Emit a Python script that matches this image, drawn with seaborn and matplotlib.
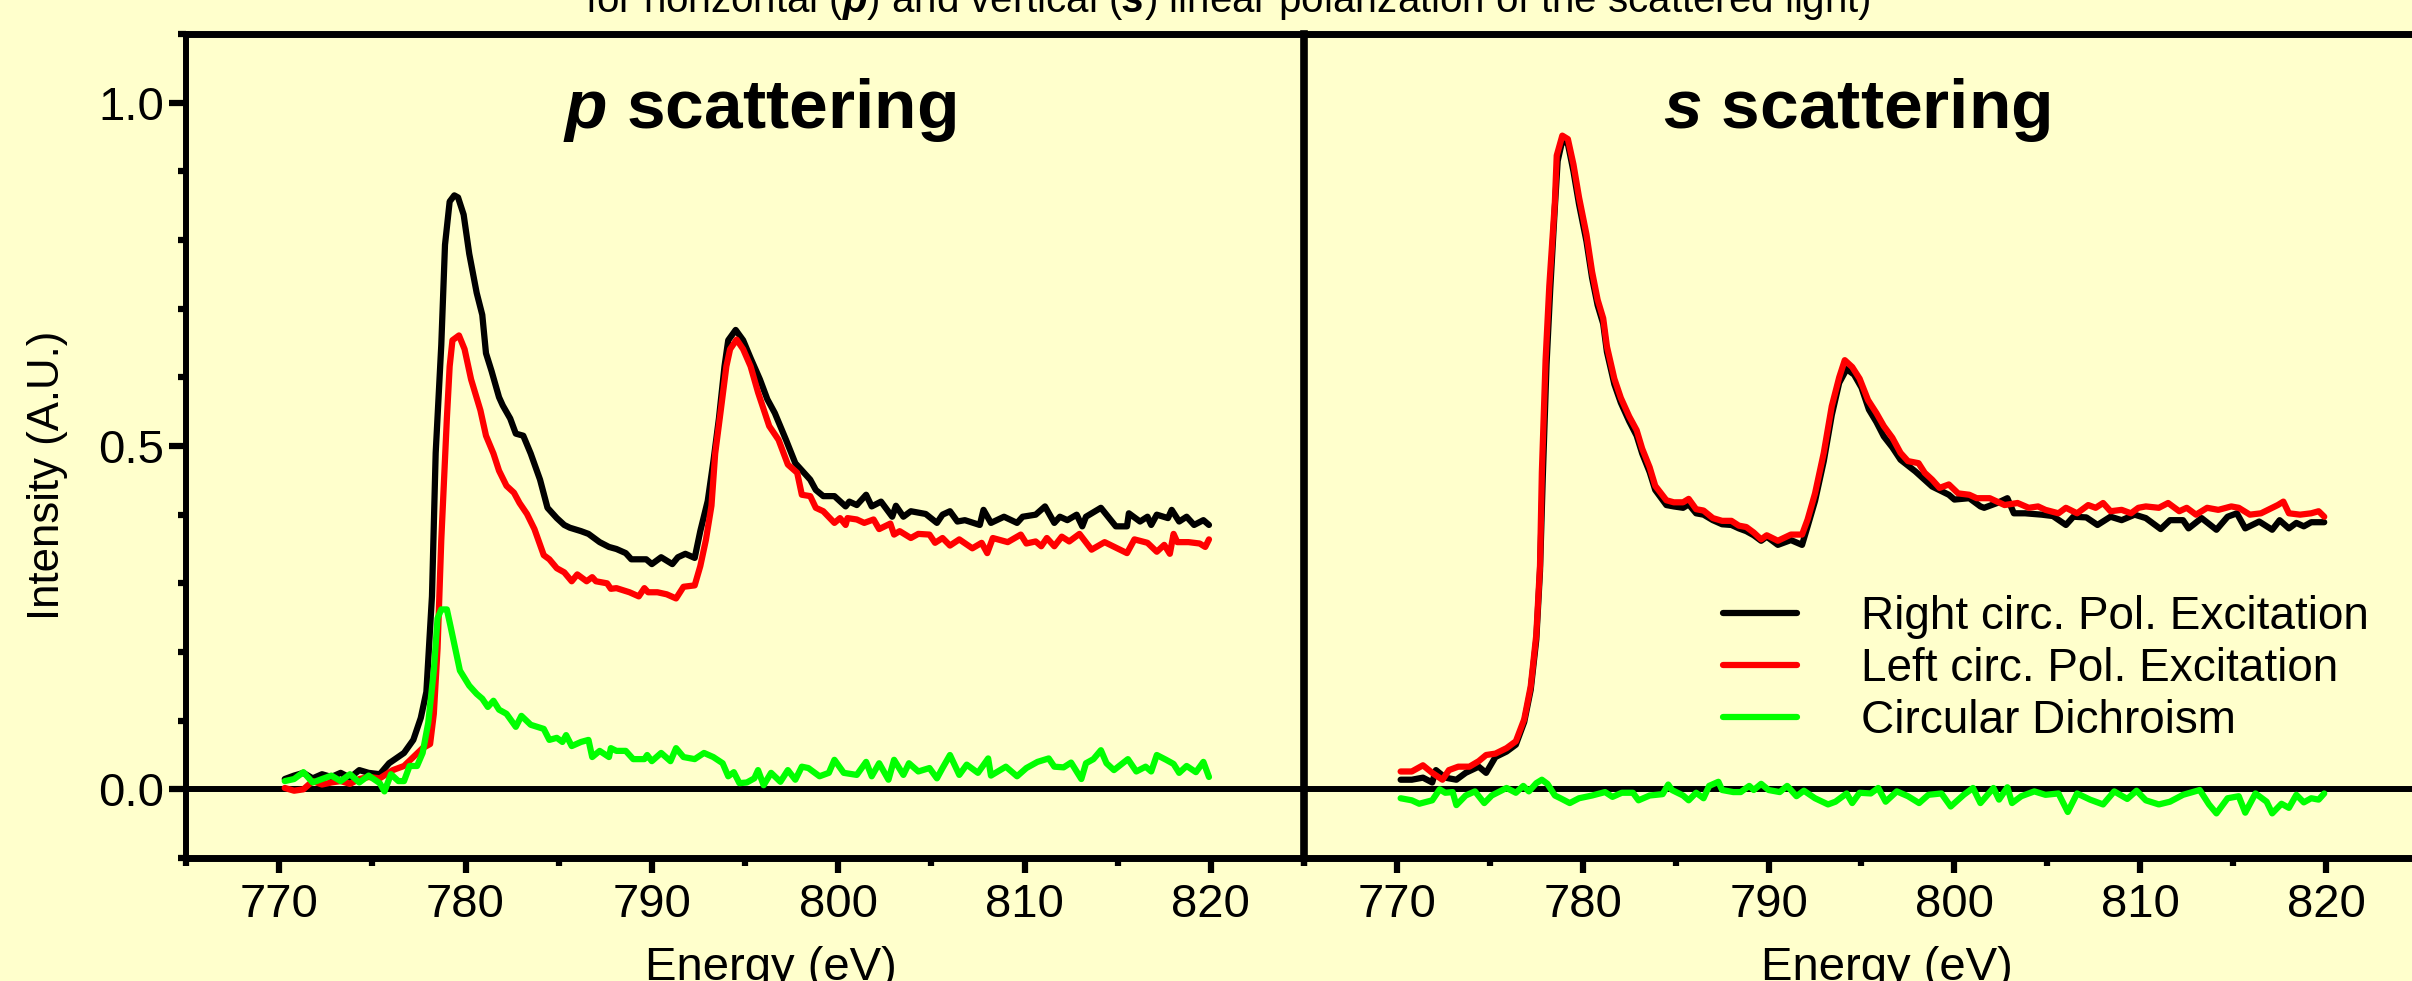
import numpy as np
import matplotlib
matplotlib.use("Agg")
import matplotlib.pyplot as plt
import seaborn as sns
from matplotlib.ticker import FixedLocator, FixedFormatter

# ---------------- data ----------------
# p scattering: right circular excitation (black)
p_right_E = [770.3, 770.8, 771.3, 771.8, 772.3, 772.8, 773.3, 773.8, 774.3, 774.8, 775.4, 775.9, 776.7, 777.2,
             777.6, 777.9, 778.2, 778.4, 778.7, 778.9, 779.15, 779.4, 779.6, 779.9, 780.2, 780.6, 780.9, 781.1,
             781.4, 781.8, 782.0, 782.4, 782.7, 783.1, 783.5, 784.0, 784.4, 784.9, 785.3, 785.6, 786.2, 786.6,
             786.9, 787.2, 787.7, 788.1, 788.6, 788.9, 789.4, 789.7, 790.0, 790.5, 791.1, 791.4, 791.8, 792.3,
             792.6, 793.0, 793.3, 793.6, 793.9, 794.1, 794.5, 794.9, 795.3, 795.8, 796.2, 796.6, 797.2, 797.7,
             798.1, 798.5, 798.8, 799.2, 799.8, 800.4, 800.6, 801.0, 801.5, 801.8, 802.3, 802.9, 803.1, 803.5,
             803.9, 804.7, 805.3, 805.6, 806.0, 806.4, 806.8, 807.6, 807.8, 808.2, 808.9, 809.6, 809.9, 810.6,
             811.1, 811.6, 811.9, 812.3, 812.8, 813.1, 813.3, 814.1, 814.9, 815.5, 815.6, 816.2, 816.6, 816.8,
             817.1, 817.7, 817.9, 818.3, 818.7, 819.1, 819.6, 819.9]
p_right_I = [0.015, 0.020, 0.024, 0.016, 0.022, 0.018, 0.024, 0.017, 0.028, 0.024, 0.022, 0.038, 0.053, 0.072,
             0.104, 0.142, 0.281, 0.490, 0.647, 0.793, 0.856, 0.865, 0.862, 0.837, 0.780, 0.723, 0.691, 0.635,
             0.609, 0.571, 0.559, 0.540, 0.518, 0.515, 0.489, 0.451, 0.410, 0.395, 0.385, 0.381, 0.376, 0.372,
             0.366, 0.360, 0.353, 0.350, 0.344, 0.335, 0.335, 0.335, 0.328, 0.338, 0.328, 0.338, 0.343, 0.337,
             0.376, 0.420, 0.477, 0.540, 0.616, 0.654, 0.669, 0.654, 0.628, 0.597, 0.568, 0.548, 0.509, 0.475,
             0.463, 0.451, 0.436, 0.427, 0.427, 0.412, 0.419, 0.414, 0.429, 0.412, 0.419, 0.397, 0.413, 0.397,
             0.405, 0.401, 0.388, 0.400, 0.405, 0.390, 0.392, 0.385, 0.407, 0.388, 0.397, 0.388, 0.397, 0.400,
             0.412, 0.388, 0.397, 0.392, 0.400, 0.383, 0.397, 0.410, 0.383, 0.383, 0.402, 0.390, 0.397, 0.385,
             0.400, 0.395, 0.407, 0.390, 0.397, 0.385, 0.392, 0.385]

# p scattering: left circular excitation (red)
p_left_E = [770.3, 770.8, 771.3, 771.8, 772.3, 772.8, 773.3, 773.8, 774.3, 774.8, 775.4, 776.1, 776.7, 777.2,
            777.7, 778.1, 778.3, 778.5, 778.7, 779.0, 779.15, 779.3, 779.65, 779.95, 780.3, 780.8, 781.1, 781.5,
            781.8, 782.2, 782.6, 782.9, 783.3, 783.7, 784.2, 784.5, 784.9, 785.3, 785.7, 786.0, 786.5, 786.8,
            787.0, 787.6, 787.8, 788.1, 788.8, 789.3, 789.6, 789.8, 790.3, 790.8, 791.3, 791.7, 792.3, 792.6,
            792.9, 793.2, 793.4, 793.7, 794.0, 794.2, 794.55, 794.9, 795.3, 795.7, 796.3, 796.8, 797.3, 797.8,
            798.05, 798.5, 798.8, 799.2, 799.8, 800.1, 800.4, 800.5, 801.0, 801.4, 801.9, 802.2, 802.8, 803.0,
            803.3, 803.9, 804.3, 804.9, 805.2, 805.6, 806.0, 806.5, 807.2, 807.7, 808.0, 808.3, 809.1, 809.8,
            810.1, 810.6, 810.9, 811.2, 811.6, 812.0, 812.4, 812.95, 813.6, 814.3, 815.5, 815.9, 816.6, 817.1,
            817.5, 817.8, 818.0, 818.2, 818.8, 819.4, 819.7, 819.9]
p_left_I = [0.002, -0.002, 0.000, 0.012, 0.007, 0.010, 0.012, 0.008, 0.015, 0.018, 0.016, 0.028, 0.034, 0.047,
            0.060, 0.066, 0.110, 0.205, 0.363, 0.540, 0.616, 0.654, 0.661, 0.641, 0.597, 0.552, 0.515, 0.489,
            0.464, 0.442, 0.432, 0.417, 0.401, 0.379, 0.341, 0.335, 0.322, 0.316, 0.303, 0.313, 0.303, 0.309,
            0.303, 0.300, 0.292, 0.293, 0.287, 0.281, 0.293, 0.287, 0.287, 0.284, 0.278, 0.295, 0.297, 0.325,
            0.363, 0.413, 0.489, 0.552, 0.616, 0.641, 0.655, 0.641, 0.616, 0.578, 0.529, 0.509, 0.473, 0.461,
            0.429, 0.427, 0.410, 0.405, 0.388, 0.395, 0.385, 0.395, 0.393, 0.388, 0.393, 0.379, 0.387, 0.371,
            0.376, 0.366, 0.372, 0.371, 0.359, 0.366, 0.355, 0.364, 0.351, 0.359, 0.344, 0.366, 0.360, 0.371,
            0.358, 0.361, 0.354, 0.366, 0.354, 0.368, 0.361, 0.372, 0.349, 0.360, 0.344, 0.364, 0.359, 0.346,
            0.356, 0.343, 0.372, 0.360, 0.360, 0.358, 0.353, 0.364]

# p scattering: circular dichroism (green)
p_cd_E = [770.3, 770.8, 771.3, 771.8, 772.3, 772.8, 773.3, 773.8, 774.3, 774.8, 775.4, 775.65, 776.0, 776.4,
          776.7, 777.0, 777.4, 777.7, 778.0, 778.3, 778.5, 778.7, 779.0, 779.2, 779.7, 780.2, 780.6, 780.9,
          781.2, 781.5, 781.8, 782.2, 782.7, 783.0, 783.5, 784.2, 784.5, 784.9, 785.2, 785.4, 785.7, 786.2,
          786.6, 786.8, 787.2, 787.7, 787.8, 788.1, 788.6, 789.0, 789.6, 789.75, 790.0, 790.5, 791.0, 791.3,
          791.7, 792.3, 792.8, 793.3, 793.8, 794.1, 794.4, 794.7, 795.1, 795.5, 795.7, 796.0, 796.4, 796.9,
          797.3, 797.7, 798.05, 798.4, 799.0, 799.5, 799.8, 800.3, 801.0, 801.5, 801.8, 802.2, 802.7, 803.0,
          803.5, 803.8, 804.3, 804.9, 805.3, 805.6, 806.0, 806.5, 806.9, 807.5, 808.05, 808.2, 809.0, 809.6,
          810.1, 810.7, 811.3, 811.6, 812.1, 812.5, 813.05, 813.3, 813.7, 814.1, 814.4, 814.8, 815.55, 816.0,
          816.5, 816.8, 817.1, 817.6, 818.0, 818.3, 818.7, 819.2, 819.6, 819.9]
p_cd_I = [0.012, 0.015, 0.025, 0.010, 0.015, 0.020, 0.012, 0.022, 0.010, 0.020, 0.009, -0.003, 0.022, 0.012,
          0.012, 0.034, 0.034, 0.053, 0.097, 0.173, 0.249, 0.262, 0.262, 0.237, 0.173, 0.151, 0.139, 0.132,
          0.120, 0.129, 0.116, 0.110, 0.091, 0.107, 0.094, 0.088, 0.072, 0.075, 0.069, 0.079, 0.063, 0.069,
          0.072, 0.047, 0.056, 0.047, 0.060, 0.056, 0.056, 0.044, 0.044, 0.050, 0.041, 0.053, 0.041, 0.060,
          0.047, 0.044, 0.053, 0.047, 0.038, 0.019, 0.025, 0.009, 0.010, 0.016, 0.028, 0.006, 0.024, 0.011,
          0.028, 0.014, 0.033, 0.031, 0.019, 0.024, 0.043, 0.024, 0.021, 0.040, 0.019, 0.038, 0.014, 0.043,
          0.021, 0.038, 0.026, 0.031, 0.016, 0.031, 0.050, 0.021, 0.036, 0.024, 0.045, 0.020, 0.033, 0.019,
          0.031, 0.040, 0.045, 0.033, 0.032, 0.039, 0.015, 0.038, 0.044, 0.057, 0.038, 0.028, 0.044, 0.026,
          0.033, 0.026, 0.050, 0.043, 0.037, 0.024, 0.034, 0.025, 0.040, 0.018]

# s scattering: right circular excitation (black)
s_right_E = [770.2, 770.8, 771.4, 771.9, 772.1, 772.6, 773.2, 773.7, 774.4, 774.8, 775.3, 775.9, 776.4, 776.85,
             777.2, 777.5, 777.7, 777.85, 778.05, 778.25, 778.5, 778.65, 778.9, 779.2, 779.5, 779.8, 780.2, 780.5,
             780.8, 781.1, 781.3, 781.7, 782.05, 782.5, 782.9, 783.2, 783.6, 783.9, 784.5, 784.9, 785.4, 785.7,
             786.1, 786.5, 787.0, 787.5, 788.0, 788.4, 788.8, 789.2, 789.6, 789.9, 790.5, 791.2, 791.8, 792.1,
             792.5, 792.97, 793.4, 793.8, 794.2, 794.6, 795.0, 795.4, 795.8, 796.2, 796.66, 797.1, 797.9, 798.8,
             799.7, 800.0, 800.8, 801.4, 801.6, 802.3, 802.85, 803.2, 803.8, 804.7, 805.3, 806.0, 806.4, 807.1,
             807.7, 808.4, 809.0, 809.7, 810.3, 811.1, 811.6, 812.3, 812.6, 813.3, 814.1, 814.7, 815.2, 815.65,
             816.4, 817.1, 817.5, 818.0, 818.4, 818.8, 819.2, 819.9]
s_right_I = [0.014, 0.014, 0.017, 0.010, 0.028, 0.017, 0.014, 0.024, 0.033, 0.024, 0.047, 0.055, 0.065, 0.098,
             0.145, 0.218, 0.318, 0.455, 0.618, 0.728, 0.848, 0.915, 0.945, 0.940, 0.900, 0.852, 0.798, 0.745,
             0.705, 0.678, 0.637, 0.590, 0.563, 0.536, 0.515, 0.489, 0.462, 0.436, 0.414, 0.412, 0.410, 0.415,
             0.402, 0.400, 0.392, 0.386, 0.385, 0.380, 0.376, 0.370, 0.362, 0.368, 0.356, 0.363, 0.356, 0.383,
             0.420, 0.478, 0.545, 0.592, 0.612, 0.604, 0.585, 0.553, 0.535, 0.514, 0.498, 0.480, 0.463, 0.441,
             0.429, 0.422, 0.424, 0.412, 0.410, 0.417, 0.424, 0.402, 0.402, 0.400, 0.398, 0.385, 0.397, 0.396,
             0.385, 0.397, 0.392, 0.400, 0.395, 0.379, 0.392, 0.392, 0.380, 0.395, 0.378, 0.397, 0.402, 0.380,
             0.390, 0.378, 0.392, 0.380, 0.388, 0.383, 0.389, 0.389]

# s scattering: left circular excitation (red)
s_left_E = [770.2, 770.8, 771.4, 771.9, 772.45, 772.8, 773.3, 773.9, 774.4, 774.8, 775.3, 775.9, 776.4, 776.85,
            777.2, 777.5, 777.7, 777.8, 778.0, 778.2, 778.5, 778.6, 778.9, 779.2, 779.5, 779.8, 780.2, 780.5,
            780.8, 781.1, 781.3, 781.7, 782.05, 782.5, 782.9, 783.2, 783.6, 783.9, 784.5, 784.9, 785.4, 785.7,
            786.1, 786.5, 787.0, 787.5, 788.0, 788.4, 788.8, 789.2, 789.6, 789.9, 790.5, 791.2, 791.8, 792.1,
            792.5, 792.97, 793.4, 793.8, 794.1, 794.5, 794.9, 795.35, 795.8, 796.2, 796.66, 797.1, 797.5, 798.07,
            798.4, 798.8, 799.2, 799.7, 800.2, 800.8, 801.2, 801.9, 802.3, 802.7, 803.4, 804.0, 804.5, 804.9,
            805.6, 806.0, 806.6, 807.2, 807.6, 808.0, 808.4, 809.0, 809.5, 809.9, 810.3, 811.0, 811.5, 812.1,
            812.5, 813.0, 813.6, 814.2, 814.9, 815.3, 815.9, 816.5, 817.1, 817.4, 817.7, 818.0, 818.6, 819.2,
            819.6, 819.9]
s_left_I = [0.026, 0.026, 0.035, 0.024, 0.014, 0.028, 0.033, 0.033, 0.041, 0.050, 0.052, 0.060, 0.070, 0.102,
            0.150, 0.225, 0.326, 0.462, 0.625, 0.733, 0.855, 0.923, 0.952, 0.947, 0.910, 0.862, 0.808, 0.754,
            0.713, 0.686, 0.645, 0.598, 0.570, 0.543, 0.523, 0.496, 0.469, 0.442, 0.421, 0.418, 0.418, 0.423,
            0.408, 0.406, 0.395, 0.391, 0.391, 0.384, 0.382, 0.374, 0.364, 0.370, 0.362, 0.371, 0.371, 0.393,
            0.431, 0.490, 0.558, 0.600, 0.625, 0.615, 0.598, 0.567, 0.548, 0.529, 0.512, 0.490, 0.478, 0.475,
            0.461, 0.451, 0.439, 0.444, 0.431, 0.429, 0.424, 0.424, 0.419, 0.414, 0.417, 0.410, 0.412, 0.407,
            0.402, 0.410, 0.402, 0.414, 0.410, 0.417, 0.405, 0.407, 0.402, 0.410, 0.412, 0.410, 0.417, 0.405,
            0.410, 0.400, 0.410, 0.407, 0.412, 0.410, 0.400, 0.402, 0.410, 0.414, 0.419, 0.402, 0.400, 0.402,
            0.405, 0.397]

# s scattering: circular dichroism (green)
s_cd_E = [770.2, 770.8, 771.2, 771.9, 772.3, 772.6, 773.0, 773.2, 773.7, 774.2, 774.7, 775.1, 775.9, 776.4,
          776.8, 777.1, 777.5, 777.8, 778.1, 778.5, 778.8, 779.3, 779.8, 780.5, 781.2, 781.6, 782.1, 782.7,
          783.0, 783.6, 784.3, 784.6, 784.8, 785.4, 785.7, 786.1, 786.5, 786.8, 787.3, 787.5, 788.1, 788.5,
          788.96, 789.2, 789.6, 790.0, 790.6, 791.0, 791.5, 791.9, 792.5, 793.2, 793.6, 794.2, 794.5, 794.9,
          795.5, 795.9, 796.3, 796.9, 797.5, 798.1, 798.6, 799.3, 799.8, 800.5, 801.0, 801.4, 802.1, 802.4,
          802.85, 803.1, 803.6, 804.3, 804.9, 805.6, 806.1, 806.6, 807.3, 808.0, 808.6, 809.3, 809.8, 810.3,
          811.0, 811.6, 812.3, 813.2, 813.7, 814.1, 814.7, 815.3, 815.65, 816.2, 816.8, 817.1, 817.6, 818.0,
          818.4, 818.8, 819.2, 819.6, 819.9]
s_cd_I = [-0.013, -0.016, -0.021, -0.016, 0.000, -0.005, -0.004, -0.023, -0.009, -0.003, -0.020, -0.009, 0.002,
          -0.005, 0.005, -0.003, 0.009, 0.014, 0.008, -0.009, -0.013, -0.020, -0.013, -0.009, -0.004, -0.011,
          -0.005, -0.005, -0.016, -0.009, -0.007, 0.007, -0.001, -0.009, -0.016, -0.005, -0.013, 0.005, 0.011,
          -0.001, -0.004, -0.004, 0.005, -0.001, 0.008, -0.001, -0.004, 0.005, -0.010, -0.002, -0.013, -0.022,
          -0.018, -0.006, -0.020, -0.005, -0.006, 0.002, -0.018, -0.003, -0.010, -0.020, -0.008, -0.006, -0.025,
          -0.008, 0.002, -0.020, 0.002, -0.015, 0.003, -0.020, -0.010, -0.003, -0.008, -0.006, -0.033, -0.006,
          -0.015, -0.022, -0.003, -0.014, -0.002, -0.016, -0.022, -0.018, -0.008, -0.001, -0.022, -0.035, -0.013,
          -0.010, -0.034, -0.006, -0.018, -0.035, -0.021, -0.027, -0.008, -0.019, -0.013, -0.015, -0.006]

series_labels = ["Right circ. Pol. Excitation", "Left circ. Pol. Excitation", "Circular Dichroism"]
series_colors = ["#000000", "#FF0000", "#00FF00"]
panel_titles = [r"$\mathbf{p}$ scattering", r"$\mathbf{s}$ scattering"]
x_major = [770, 780, 790, 800, 810, 820]
x_minor = [765, 775, 785, 795, 805, 815, 825]
y_major = [0.0, 0.5, 1.0]
y_major_labels = ["0.0", "0.5", "1.0"]
y_minor = [-0.1, 0.1, 0.2, 0.3, 0.4, 0.6, 0.7, 0.8, 0.9, 1.1]
x_label = "Energy (eV)"
y_label = "Intensity (A.U.)"
top_text = r"for horizontal ($\mathbf{p}$) and vertical ($\mathbf{s}$) linear polarization of the scattered light)"

# ---------------- style ----------------
BG = "#FFFFCC"
sns.set_theme(style="white")
plt.rcParams["font.family"] = ["Liberation Sans", "DejaVu Sans"]
plt.rcParams["text.color"] = "black"
plt.rcParams["axes.labelcolor"] = "black"
plt.rcParams["xtick.color"] = "black"
plt.rcParams["ytick.color"] = "black"
plt.rcParams["axes.edgecolor"] = "black"
plt.rcParams["mathtext.fontset"] = "custom"
plt.rcParams["mathtext.rm"] = "Liberation Sans"
plt.rcParams["mathtext.it"] = "Liberation Sans:italic"
plt.rcParams["mathtext.bf"] = "Liberation Sans:bold:italic"

W, H = 2412, 981
fig = plt.figure(figsize=(W / 100, H / 100), dpi=100, facecolor=BG)

y_top_px, y_bot_px = 34, 858
ax_h = (y_bot_px - y_top_px) / H
ax_y0 = (H - y_bot_px) / H
axL = fig.add_axes([186 / W, ax_y0, (1304 - 186) / W, ax_h])
axR = fig.add_axes([1304 / W, ax_y0, (2419 - 1304) / W, ax_h])

LW = 4.5
panels = [
    (axL, [(p_right_E, p_right_I), (p_left_E, p_left_I), (p_cd_E, p_cd_I)]),
    (axR, [(s_right_E, s_right_I), (s_left_E, s_left_I), (s_cd_E, s_cd_I)]),
]

legend_handles = []
for ax, series in panels:
    ax.set_facecolor(BG)
    ax.axhline(0, color="black", lw=4.3, zorder=1)
    for (E, I), col in zip(series, series_colors):
        sns.lineplot(x=np.array(E), y=np.array(I), ax=ax, color=col, linewidth=LW,
                     estimator=None, sort=False, legend=False, zorder=2)
        if ax is axR:
            legend_handles.append(ax.lines[-1])
    ax.set_xlim(765, 825)
    ax.set_ylim(-0.1, 1.1)
    ax.xaxis.set_major_locator(FixedLocator(x_major))
    ax.xaxis.set_minor_locator(FixedLocator(x_minor))
    ax.xaxis.set_major_formatter(FixedFormatter([str(v) for v in x_major]))
    ax.tick_params(axis="x", which="major", direction="out", length=11, width=4.5,
                   labelsize=34, pad=7, colors="black", bottom=True)
    ax.tick_params(axis="x", which="minor", direction="out", length=6, width=4.5, bottom=True)
    for sp in ax.spines.values():
        sp.set_color("black")
    ax.spines["top"].set_linewidth(5)
    ax.spines["bottom"].set_linewidth(5)
    ax.grid(False)
    ax.set_xlabel(x_label, fontsize=34)
    ax.xaxis.set_label_coords(0.523, (y_bot_px - 980) / (y_bot_px - y_top_px))
    ax.xaxis.label.set_va("baseline")

# left panel y axis
axL.yaxis.set_major_locator(FixedLocator(y_major))
axL.yaxis.set_minor_locator(FixedLocator(y_minor))
axL.yaxis.set_major_formatter(FixedFormatter(y_major_labels))
axL.tick_params(axis="y", which="major", direction="out", length=12, width=4.5,
                labelsize=34, pad=3.6, left=True, colors="black")
axL.tick_params(axis="y", which="minor", direction="out", length=6, width=4.5, left=True)
axL.spines["left"].set_linewidth(4.3)
axL.spines["right"].set_visible(False)
axL.set_ylabel(y_label, fontsize=31.5)
axL.yaxis.set_label_coords((48 - 186) / (1304 - 186), (y_bot_px - 475) / (y_bot_px - y_top_px))
axL.yaxis.label.set_va("center")

# right panel: no y ticks, its left spine is the divider
axR.tick_params(axis="y", which="both", left=False, right=False, labelleft=False)
axR.spines["left"].set_linewidth(5.5)
axR.spines["right"].set_linewidth(5)

# panel titles
axL.text(0.513, (y_bot_px - 128) / (y_bot_px - y_top_px), panel_titles[0], transform=axL.transAxes,
         ha="center", va="baseline", fontsize=50, fontweight="bold", color="black")
axR.text(0.496, (y_bot_px - 128) / (y_bot_px - y_top_px), panel_titles[1], transform=axR.transAxes,
         ha="center", va="baseline", fontsize=50, fontweight="bold", color="black")

# legend
leg = axR.legend(legend_handles, series_labels, loc="center left",
                 bbox_to_anchor=(1723 / W, 1 - 669 / H), bbox_transform=fig.transFigure,
                 frameon=False, fontsize=33, handlelength=1.62, handletextpad=1.4,
                 labelspacing=0.18, borderpad=0, borderaxespad=0)
for t in leg.get_texts():
    t.set_color("black")

# cut-off top caption
fig.text(585 / W, 1 - 12 / H, top_text, fontsize=29, ha="left", va="baseline", color="black")

fig.savefig("out.png", dpi=100, facecolor=BG)
